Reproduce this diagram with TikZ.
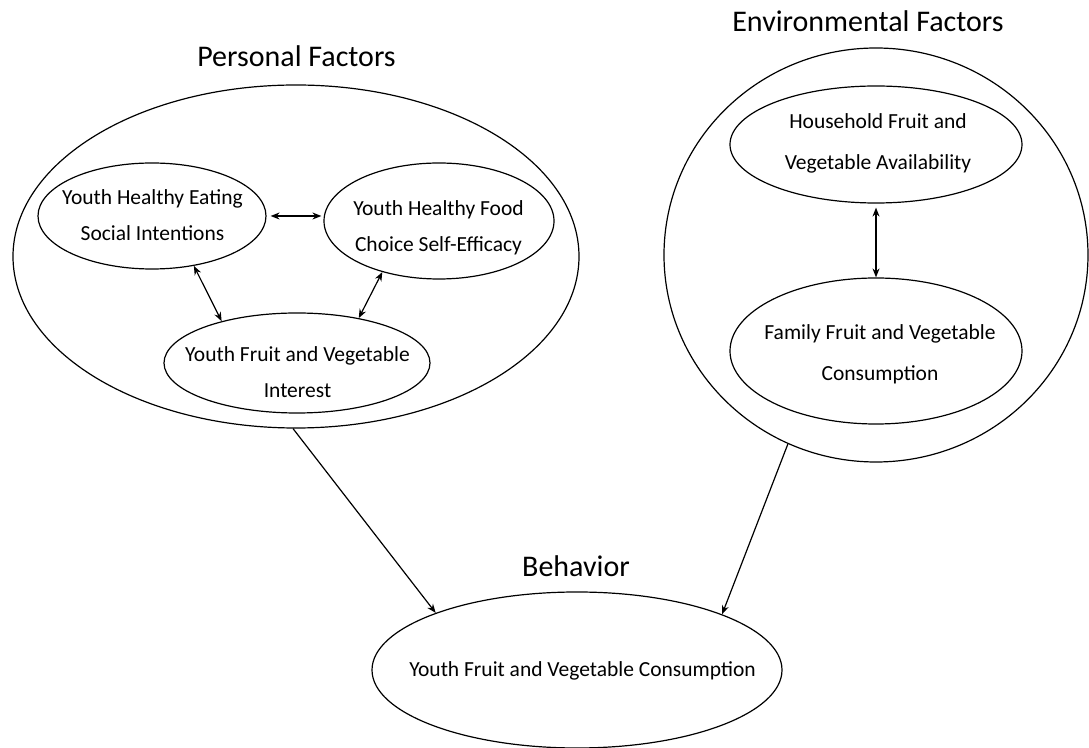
\documentclass[tikz,border=0pt]{standalone}
\usepackage{fontspec}
\setmainfont{Carlito}
\usepackage{tikz}
\usetikzlibrary{shapes.geometric, arrows.meta}

\tikzset{
    factor/.style={draw, ellipse, line width=0.6pt, inner sep=0pt},
    lbl/.style={font=\fontsize{10.75}{18}\selectfont, align=center, anchor=base, inner sep=0pt},
    lblwide/.style={lbl, font=\fontsize{10.75}{20.75}\selectfont},
    ttl/.style={font=\fontsize{15}{18}\selectfont, anchor=base, inner sep=0pt},
}

\begin{document}
\begin{tikzpicture}[x=0.5pt, y=-0.5pt, line width=0.6pt, >={Stealth[length=4.5pt, width=3.5pt]}]
    \useasboundingbox (0,0) rectangle (1089,748);

    % personal factors
    \node[factor, minimum width=283pt, minimum height=171.5pt] (pers) at (296,256.5) {};
    \node[ttl] (pers-ttl) at (296.5,67) {Personal Factors};
    \node[factor, minimum width=114pt, minimum height=53pt] (eat) at (152,216) {};
    \node[lbl] (eat-t) at (152.5,240.7) {Youth Healthy Eating\\Social Intentions};
    \node[factor, minimum width=115pt, minimum height=58pt] (food) at (439,221) {};
    \node[lbl] (food-t) at (438.5,251.7) {Youth Healthy Food\\Choice Self-Efficacy};
    \node[factor, minimum width=133pt, minimum height=50pt] (intr) at (297,363) {};
    \node[lbl] (intr-t) at (297.5,397.7) {Youth Fruit and Vegetable\\Interest};

    \draw[<->, shorten <=2pt, shorten >=1pt] (eat.east) -- (eat.east -| food.west);
    \draw[<->] (eat.-50) -- (intr.151);
    \draw[<->] (food.-138) -- (intr.36);

    % environmental factors
    \node[factor, minimum width=212pt, minimum height=207pt] (env) at (876,255) {};
    \node[ttl] (env-ttl) at (868,32) {Environmental Factors};
    \node[factor, minimum width=146pt, minimum height=58.5pt] (house) at (876,144.5) {};
    \node[lblwide] (house-t) at (878,170) {Household Fruit and\\Vegetable Availability};
    \node[factor, minimum width=146pt, minimum height=73pt] (fam) at (876,351) {};
    \node[lblwide] (fam-t) at (880,380.7) {Family Fruit and Vegetable\\Consumption};

    \draw[<->, shorten <=2pt] (house.south) -- (fam.north);

    % behavior
    \node[factor, minimum width=205pt, minimum height=78pt] (beh) at (577,670) {};
    \node[ttl] (beh-ttl) at (576,577) {Behavior};
    \node[lbl] (beh-t) at (582.5,677) {Youth Fruit and Vegetable Consumption};

    \draw[->] (pers.-91) -- (beh.158);
    \draw[->] (env.-115) -- (beh.21.5);
\end{tikzpicture}
\end{document}
